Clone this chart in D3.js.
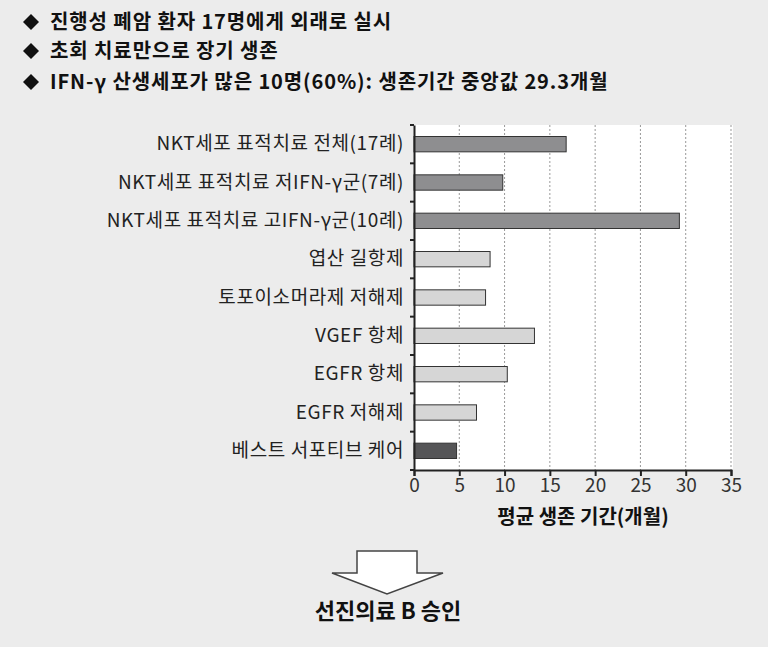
<!DOCTYPE html>
<html><head><meta charset="utf-8">
<script src="https://cdn.jsdelivr.net/npm/d3@7"></script>
<style>body{margin:0;background:#ececec;}svg{display:block;font-family:"Noto Sans CJK KR",sans-serif;}</style>
</head><body><svg width="768" height="647"></svg>
<script>
const bullets = ["진행성 폐암 환자 17명에게 외래로 실시","초회 치료만으로 장기 생존","IFN-γ 산생세포가 많은 10명(60%): 생존기간 중앙값 29.3개월"];
const categories = ["NKT세포 표적치료 전체(17례)","NKT세포 표적치료 저IFN-γ군(7례)","NKT세포 표적치료 고IFN-γ군(10례)","엽산 길항제","토포이소머라제 저해제","VGEF 항체","EGFR 항체","EGFR 저해제","베스트 서포티브 케어"];
const values = [16.8, 9.8, 29.3, 8.4, 7.9, 13.3, 10.3, 6.9, 4.7];
const groups = ["nkt","nkt","nkt","other","other","other","other","other","bsc"];
const ticks = [0,5,10,15,20,25,30,35];
const xTitle = "평균 생존 기간(개월)";
const footer = "선진의료 B 승인";

const svg = d3.select("svg");
const colors = {nkt:"#8e8e90", other:"#d6d6d6", bsc:"#555557"};
bullets.forEach((t,i)=>{
  const cy = [22,51,82][i];
  svg.append("path").attr("d",`M31,${cy-8}L39,${cy}L31,${cy+8}L23,${cy}Z`).attr("fill","#111");
  svg.append("text").attr("x",50).attr("y",cy+7).attr("font-size",20).attr("letter-spacing",0.9).attr("font-weight","bold").attr("fill","#111").text(t);
});
const L=414, R=731, T=125, B=470;
const x = d3.scaleLinear().domain([0,35]).range([L,R]);
const y = d3.scaleBand().domain(categories).range([T,B]).paddingInner(0.6).paddingOuter(0.3);
svg.append("rect").attr("x",L).attr("y",T).attr("width",R-L+2).attr("height",B-T).attr("fill","#fff");
svg.append("g").selectAll("line").data(ticks.slice(1)).join("line")
  .attr("x1",d=>x(d)).attr("x2",d=>x(d)).attr("y1",T).attr("y2",B)
  .attr("stroke","#999").attr("stroke-dasharray","2,2");
svg.append("g").selectAll("rect").data(values).join("rect")
  .attr("x",x(0)).attr("y",(d,i)=>y(categories[i])).attr("height",y.bandwidth())
  .attr("width",d=>x(d)-x(0)).attr("fill",(d,i)=>colors[groups[i]]).attr("stroke","#333").attr("stroke-width",1);
const ya = svg.append("g").attr("transform",`translate(${L},0)`).call(d3.axisLeft(y).tickSize(0).tickPadding(10));
ya.select(".domain").attr("stroke","#222").attr("stroke-width",2);
ya.selectAll("text").attr("font-size",19).attr("letter-spacing",0.6).attr("fill","#222").style("font-family","'Noto Sans CJK KR'");
svg.append("g").selectAll("line").data(d3.range(categories.length+1)).join("line")
  .attr("x1",L-4).attr("x2",L).attr("y1",i=>T+i*(B-T)/categories.length).attr("y2",i=>T+i*(B-T)/categories.length)
  .attr("stroke","#222").attr("stroke-width",2);
const xa = svg.append("g").attr("transform",`translate(0,${B})`).call(d3.axisBottom(x).tickValues(ticks).tickSize(6).tickPadding(3));
xa.select(".domain").attr("stroke","#222").attr("stroke-width",2);
xa.selectAll("line").attr("stroke","#222").attr("stroke-width",2);
xa.selectAll("text").attr("font-size",19).attr("fill","#333").style("font-family","'Noto Sans CJK KR'");
svg.append("text").attr("x",583).attr("y",524).attr("text-anchor","middle").attr("font-size",20).attr("font-weight","bold").attr("fill","#111").text(xTitle);
svg.append("path").attr("d","M357,551L417,551L417,573L443,573L387,594L332,573L357,573Z").attr("fill","#fff").attr("stroke","#444").attr("stroke-width",1.5);
svg.append("text").attr("x",388).attr("y",619).attr("text-anchor","middle").attr("font-size",22).attr("font-weight","bold").attr("fill","#111").text(footer);
</script></body></html>
